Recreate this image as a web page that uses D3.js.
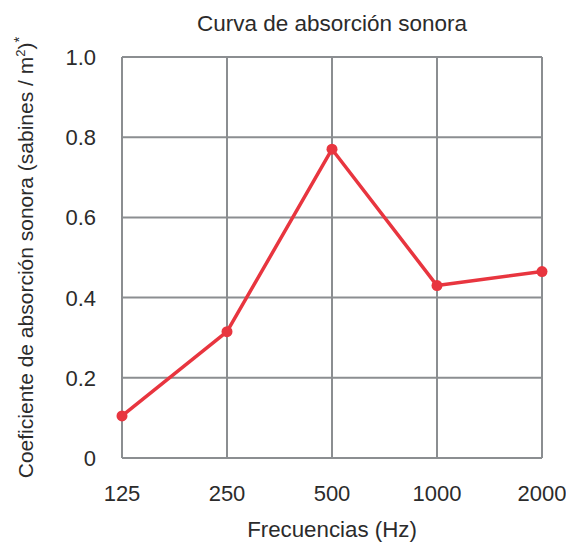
<!DOCTYPE html>
<html>
<head>
<meta charset="utf-8">
<script src="https://cdn.jsdelivr.net/npm/d3@7"></script>
<style>
  body { margin: 0; background: #fff; }
  svg text { font-family: 'Liberation Sans', Arial, sans-serif; fill: #2b2b2b; }
</style>
</head>
<body>
<div id="chart"></div>
<script>
// Datos del gráfico
const frecuencias = ['125', '250', '500', '1000', '2000'];
const coeficientes = [0.105, 0.315, 0.77, 0.43, 0.465];
const yTicks = [0, 0.2, 0.4, 0.6, 0.8, 1.0];

const W = 566, H = 544;
const m = { top: 57, right: 24, bottom: 86, left: 122 };
const w = W - m.left - m.right, h = H - m.top - m.bottom;
const gridCol = '#8b8e91', lineCol = '#e8353f';

const svg = d3.select('#chart').append('svg').attr('width', W).attr('height', H);
const g = svg.append('g').attr('transform', `translate(${m.left},${m.top})`);

const x = d3.scalePoint().domain(frecuencias).range([0, w]);
const y = d3.scaleLinear().domain([0, 1]).range([h, 0]);

// Rejilla
g.selectAll('.hgrid').data(yTicks).enter().append('line')
  .attr('x1', 0).attr('x2', w).attr('y1', d => y(d)).attr('y2', d => y(d))
  .attr('stroke', gridCol).attr('stroke-width', 2);
g.selectAll('.vgrid').data(frecuencias).enter().append('line')
  .attr('x1', d => x(d)).attr('x2', d => x(d)).attr('y1', 0).attr('y2', h)
  .attr('stroke', gridCol).attr('stroke-width', 2);

// Etiquetas de los ejes
g.selectAll('.ylab').data(yTicks).enter().append('text')
  .attr('x', -26).attr('y', d => y(d)).attr('dy', '0.36em')
  .attr('text-anchor', 'end').attr('font-size', 22)
  .text(d => d === 0 ? '0' : d.toFixed(1));
g.selectAll('.xlab').data(frecuencias).enter().append('text')
  .attr('x', d => x(d)).attr('y', h + 43)
  .attr('text-anchor', 'middle').attr('font-size', 22)
  .text(d => d);

// Línea y puntos
const line = d3.line().x((d, i) => x(frecuencias[i])).y(d => y(d));
g.append('path').datum(coeficientes).attr('d', line)
  .attr('fill', 'none').attr('stroke', lineCol).attr('stroke-width', 3.5)
  .attr('stroke-linejoin', 'round');
g.selectAll('.pt').data(coeficientes).enter().append('circle')
  .attr('cx', (d, i) => x(frecuencias[i])).attr('cy', d => y(d)).attr('r', 5.5)
  .attr('fill', lineCol);

// Títulos
svg.append('text').attr('x', m.left + w / 2).attr('y', 31)
  .attr('text-anchor', 'middle').attr('font-size', 22.5)
  .text('Curva de absorción sonora');
svg.append('text').attr('x', m.left + w / 2).attr('y', 537)
  .attr('text-anchor', 'middle').attr('font-size', 22.3)
  .text('Frecuencias (Hz)');
const yt = svg.append('text').attr('transform', `translate(33,${m.top + h / 2}) rotate(-90)`)
  .attr('text-anchor', 'middle').attr('font-size', 21);
yt.append('tspan').text('Coeficiente de absorción sonora (sabines / m');
yt.append('tspan').attr('font-size', 13).attr('dy', -8).text('2');
yt.append('tspan').attr('dy', 8).text(')');
yt.append('tspan').attr('font-size', 15).attr('dy', -9).text('*');
</script>
</body>
</html>
